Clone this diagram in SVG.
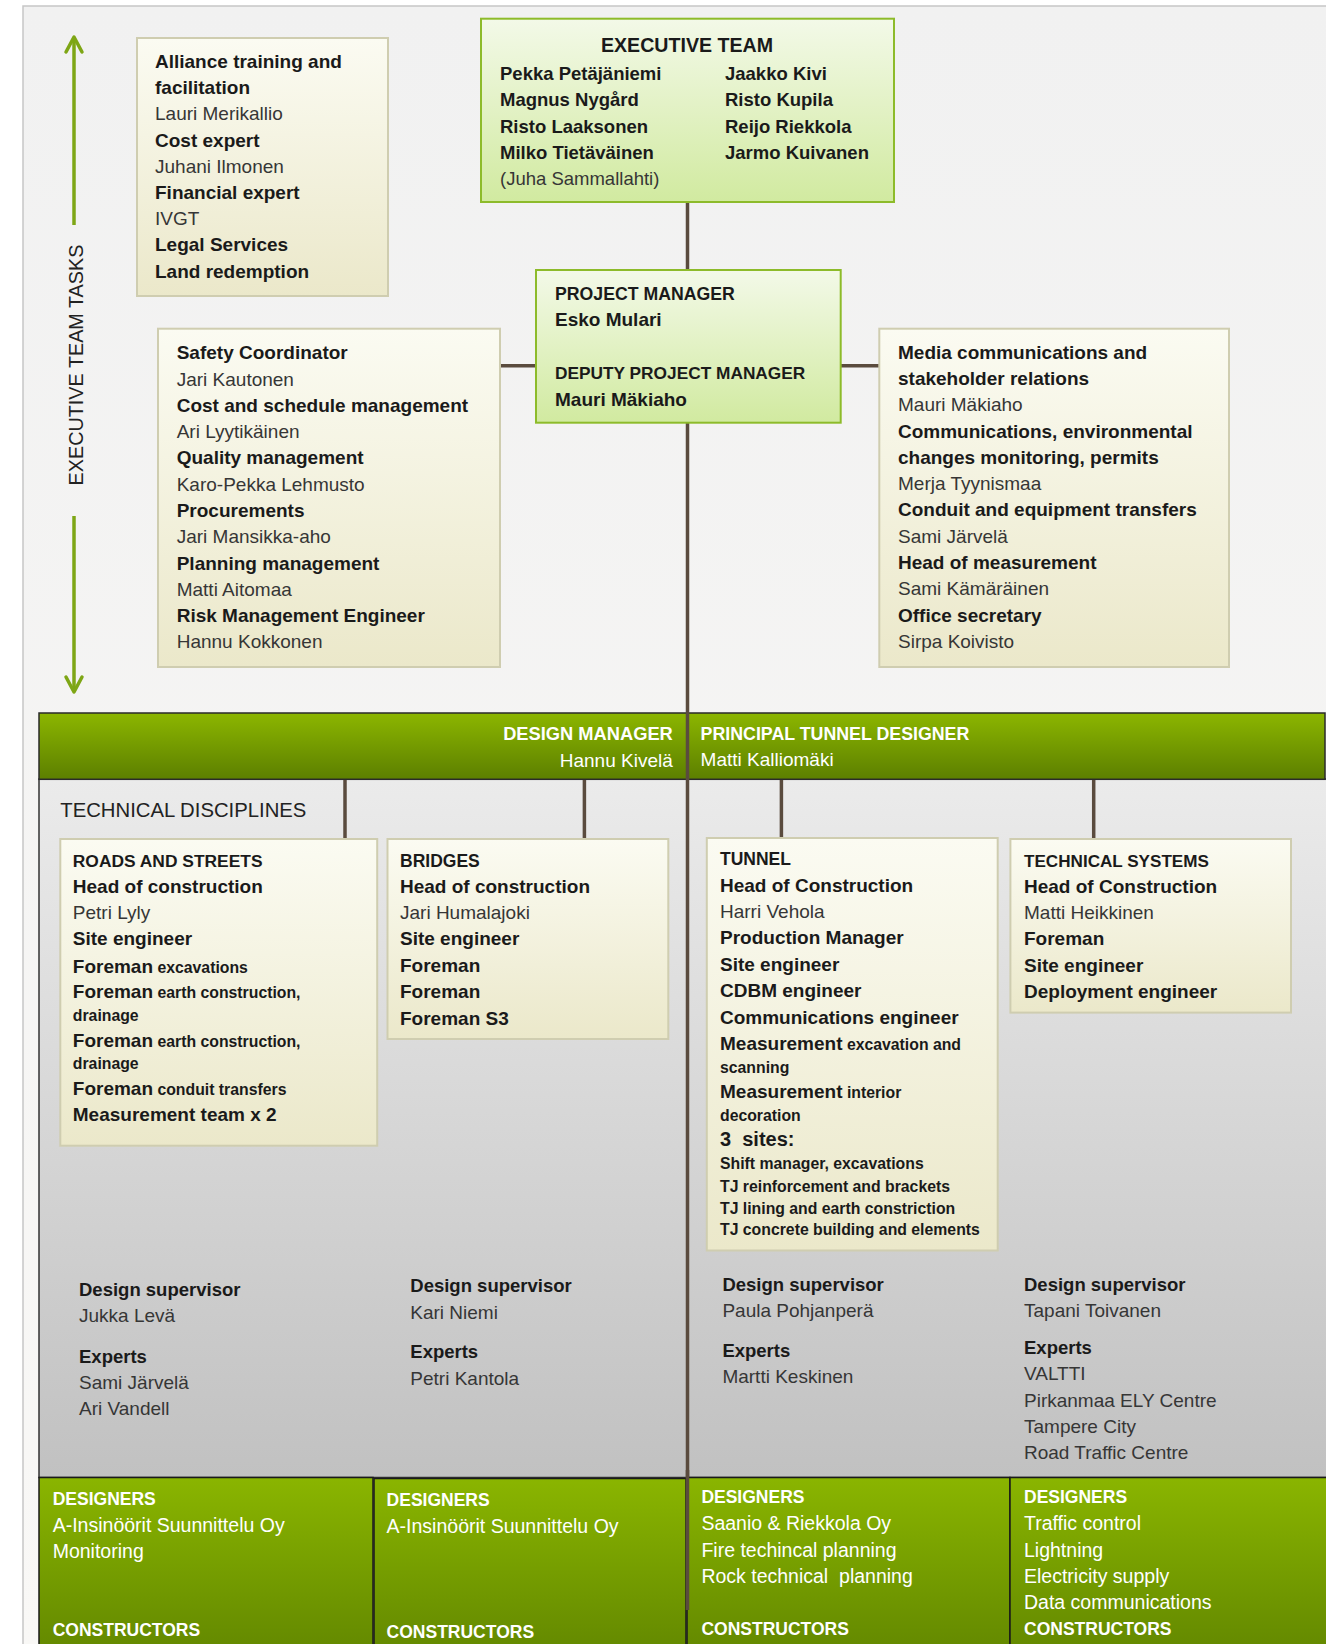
<svg xmlns="http://www.w3.org/2000/svg" width="1326" height="1644" viewBox="0 0 1326 1644">
<defs>
<linearGradient id="gBg" x1="0" y1="0" x2="0" y2="1"><stop offset="0" stop-color="#f1f1f1"/><stop offset="1" stop-color="#f9f8f6"/></linearGradient>
<linearGradient id="gCream" x1="0" y1="0" x2="0" y2="1"><stop offset="0" stop-color="#fbfbf2"/><stop offset="1" stop-color="#ebe8ca"/></linearGradient>
<linearGradient id="gLight" x1="0" y1="0" x2="0" y2="1"><stop offset="0" stop-color="#f3f9e8"/><stop offset="1" stop-color="#d1eaa0"/></linearGradient>
<linearGradient id="gBanner" x1="0" y1="0" x2="0" y2="1"><stop offset="0" stop-color="#8cb600"/><stop offset="1" stop-color="#5c7f00"/></linearGradient>
<linearGradient id="gGray" x1="0" y1="0" x2="0" y2="1"><stop offset="0" stop-color="#ebebeb"/><stop offset="1" stop-color="#c1c1c1"/></linearGradient>
<linearGradient id="gDes" x1="0" y1="0" x2="0" y2="1"><stop offset="0" stop-color="#8ab500"/><stop offset="1" stop-color="#628700"/></linearGradient>
<marker id="arr" viewBox="0 0 20 20" markerWidth="20" markerHeight="20" refX="17" refY="10" orient="auto" markerUnits="userSpaceOnUse" overflow="visible">
<path d="M2,2 L17,10 L2,18" fill="none" stroke="#7ea615" stroke-width="3.5" stroke-linecap="round" stroke-linejoin="round"/>
</marker>
<style>
text{font-family:"Liberation Sans",Arial,sans-serif;font-size:19px;fill:#363636}
.b{font-weight:bold;fill:#1a1a1a}
.cap{font-weight:bold;fill:#1a1a1a;font-size:17.5px}
.sm{font-weight:bold;fill:#1a1a1a;font-size:15.8px}
.ex{font-size:18.5px}
.w{fill:#ffffff}
.wb{fill:#ffffff;font-weight:bold;font-size:17.5px}
.cream{fill:url(#gCream);stroke:#cfcdb0;stroke-width:2}
.light{fill:url(#gLight);stroke:#8dbb2a;stroke-width:2}
.des{fill:url(#gDes);stroke:#1a1a1a;stroke-width:1.5}
.con{stroke:#5a4b3e;stroke-width:3.5;fill:none}
.arrow{stroke:#7ea615;stroke-width:3.5;fill:none}
</style>
</defs>
<rect x="0" y="0" width="1326" height="1644" fill="#ffffff"/>
<rect x="23" y="6" width="1320" height="1650" fill="url(#gBg)" stroke="#c6c6c6" stroke-width="1.5"/>

<g id="exec-tasks">
<line class="arrow" x1="74" y1="225" x2="74" y2="37" marker-end="url(#arr)"/>
<line class="arrow" x1="74" y1="516" x2="74" y2="692" marker-end="url(#arr)"/>
<text x="83" y="365" text-anchor="middle" transform="rotate(-90 83 365)" style="font-size:19.8px;fill:#222">EXECUTIVE TEAM TASKS</text>
</g>

<g id="gray-panel">
<rect x="39" y="779" width="1300" height="698.5" fill="url(#gGray)" stroke="#333" stroke-width="1.5"/>
<text x="60.3" y="816.7" style="font-size:20.3px;fill:#222">TECHNICAL DISCIPLINES</text>
</g>

<g id="banner">
<rect x="39" y="713" width="1286" height="66.3" fill="url(#gBanner)" stroke="#2a2a2a" stroke-width="1.5"/>
<text class="wb" x="672.8" y="740" text-anchor="end" style="font-size:18.3px">DESIGN MANAGER</text>
<text class="w" x="672.8" y="766.7" text-anchor="end">Hannu Kivelä</text>
<text class="wb" x="700.6" y="740" style="font-size:17.8px">PRINCIPAL TUNNEL DESIGNER</text>
<text class="w" x="700.6" y="765.8">Matti Kalliomäki</text>
</g>

<g id="connectors">
<line class="con" x1="687.5" y1="202" x2="687.5" y2="270"/>
<line class="con" x1="500" y1="365.7" x2="536" y2="365.7"/>
<line class="con" x1="840.7" y1="365.7" x2="879.3" y2="365.7"/>
<line class="con" x1="687.5" y1="423" x2="687.5" y2="1610"/>
<line class="con" x1="345" y1="780" x2="345" y2="839"/>
<line class="con" x1="584.4" y1="780" x2="584.4" y2="839"/>
<line class="con" x1="781.4" y1="780" x2="781.4" y2="838"/>
<line class="con" x1="1093.7" y1="780" x2="1093.7" y2="839"/>
</g>

<g id="alliance">
<rect class="cream" x="137" y="38" width="251" height="258"/>
<text class="b" x="155" y="68">Alliance training and</text>
<text class="b" x="155" y="94.2">facilitation</text>
<text x="155" y="120.4">Lauri Merikallio</text>
<text class="b" x="155" y="146.6">Cost expert</text>
<text x="155" y="172.8">Juhani Ilmonen</text>
<text class="b" x="155" y="199">Financial expert</text>
<text x="155" y="225.2">IVGT</text>
<text class="b" x="155" y="251.4">Legal Services</text>
<text class="b" x="155" y="277.6">Land redemption</text>
</g>

<g id="executive-team">
<rect class="light" x="481" y="18.7" width="413" height="183.3"/>
<text class="b" x="687" y="51.7" text-anchor="middle" style="font-size:19.6px">EXECUTIVE TEAM</text>
<text class="b ex" x="500" y="80">Pekka Petäjäniemi</text>
<text class="b ex" x="500" y="106.3">Magnus Nygård</text>
<text class="b ex" x="500" y="132.5">Risto Laaksonen</text>
<text class="b ex" x="500" y="158.8">Milko Tietäväinen</text>
<text class="ex" x="500" y="185">(Juha Sammallahti)</text>
<text class="b ex" x="725" y="80">Jaakko Kivi</text>
<text class="b ex" x="725" y="106.3">Risto Kupila</text>
<text class="b ex" x="725" y="132.5">Reijo Riekkola</text>
<text class="b ex" x="725" y="158.8">Jarmo Kuivanen</text>
</g>

<g id="project-manager">
<rect class="light" x="536" y="270" width="304.7" height="152.7"/>
<text class="cap" x="555" y="300" style="font-size:17.7px">PROJECT MANAGER</text>
<text class="b" x="555" y="326">Esko Mulari</text>
<text class="cap" x="555" y="379" style="font-size:17.3px">DEPUTY PROJECT MANAGER</text>
<text class="b" x="555" y="405.7">Mauri Mäkiaho</text>
</g>

<g id="safety">
<rect class="cream" x="158" y="328.7" width="342" height="338.3"/>
<text class="b" x="176.7" y="359.3">Safety Coordinator</text>
<text x="176.7" y="385.6">Jari Kautonen</text>
<text class="b" x="176.7" y="411.8">Cost and schedule management</text>
<text x="176.7" y="438.1">Ari Lyytikäinen</text>
<text class="b" x="176.7" y="464.4">Quality management</text>
<text x="176.7" y="490.6">Karo-Pekka Lehmusto</text>
<text class="b" x="176.7" y="516.9">Procurements</text>
<text x="176.7" y="543.2">Jari Mansikka-aho</text>
<text class="b" x="176.7" y="569.5">Planning management</text>
<text x="176.7" y="595.7">Matti Aitomaa</text>
<text class="b" x="176.7" y="622">Risk Management Engineer</text>
<text x="176.7" y="648.3">Hannu Kokkonen</text>
</g>

<g id="media">
<rect class="cream" x="879.3" y="328.7" width="349.7" height="338.3"/>
<text class="b" x="898" y="358.8">Media communications and</text>
<text class="b" x="898" y="385.1">stakeholder relations</text>
<text x="898" y="411.3">Mauri Mäkiaho</text>
<text class="b" x="898" y="437.6">Communications, environmental</text>
<text class="b" x="898" y="463.9">changes monitoring, permits</text>
<text x="898" y="490.1">Merja Tyynismaa</text>
<text class="b" x="898" y="516.4">Conduit and equipment transfers</text>
<text x="898" y="542.7">Sami Järvelä</text>
<text class="b" x="898" y="569">Head of measurement</text>
<text x="898" y="595.2">Sami Kämäräinen</text>
<text class="b" x="898" y="621.5">Office secretary</text>
<text x="898" y="647.8">Sirpa Koivisto</text>
</g>

<g id="roads">
<rect class="cream" x="60.3" y="839" width="316.9" height="306.7"/>
<text class="cap" x="72.8" y="866.7" style="font-size:17.4px">ROADS AND STREETS</text>
<text class="b" x="72.8" y="892.7">Head of construction</text>
<text x="72.8" y="919.3">Petri Lyly</text>
<text class="b" x="72.8" y="945.3">Site engineer</text>
<text x="72.8" y="972.7"><tspan class="b">Foreman</tspan><tspan class="sm"> excavations</tspan></text>
<text x="72.8" y="998.3"><tspan class="b">Foreman</tspan><tspan class="sm"> earth construction,</tspan></text>
<text class="sm" x="72.8" y="1021">drainage</text>
<text x="72.8" y="1046.7"><tspan class="b">Foreman</tspan><tspan class="sm"> earth construction,</tspan></text>
<text class="sm" x="72.8" y="1069.3">drainage</text>
<text x="72.8" y="1095"><tspan class="b">Foreman</tspan><tspan class="sm"> conduit transfers</tspan></text>
<text class="b" x="72.8" y="1121">Measurement team x 2</text>
</g>

<g id="bridges">
<rect class="cream" x="387.5" y="839" width="280.8" height="200"/>
<text class="cap" x="400" y="866.7">BRIDGES</text>
<text class="b" x="400" y="892.7">Head of construction</text>
<text x="400" y="919.3">Jari Humalajoki</text>
<text class="b" x="400" y="945.3">Site engineer</text>
<text class="b" x="400" y="972">Foreman</text>
<text class="b" x="400" y="998">Foreman</text>
<text class="b" x="400" y="1024.7">Foreman S3</text>
</g>

<g id="tunnel">
<rect class="cream" x="706.8" y="838" width="290.9" height="412.5"/>
<text class="cap" x="720" y="864.6">TUNNEL</text>
<text class="b" x="720" y="891.6">Head of Construction</text>
<text x="720" y="917.5">Harri Vehola</text>
<text class="b" x="720" y="943.8">Production Manager</text>
<text class="b" x="720" y="971.2">Site engineer</text>
<text class="b" x="720" y="997">CDBM engineer</text>
<text class="b" x="720" y="1024">Communications engineer</text>
<text x="720" y="1050"><tspan class="b">Measurement</tspan><tspan class="sm"> excavation and</tspan></text>
<text class="sm" x="720" y="1073">scanning</text>
<text x="720" y="1097.7"><tspan class="b">Measurement</tspan><tspan class="sm"> interior</tspan></text>
<text class="sm" x="720" y="1121">decoration</text>
<text class="b" x="720" y="1145.8" style="font-size:20px">3&#160; sites:</text>
<text class="sm" x="720" y="1169">Shift manager, excavations</text>
<text class="sm" x="720" y="1192">TJ reinforcement and brackets</text>
<text class="sm" x="720" y="1213.5">TJ lining and earth constriction</text>
<text class="sm" x="720" y="1235">TJ concrete building and elements</text>
</g>

<g id="technical-systems">
<rect class="cream" x="1010.4" y="839" width="280.6" height="173.6"/>
<text class="cap" x="1024" y="866.8" style="font-size:17.1px">TECHNICAL SYSTEMS</text>
<text class="b" x="1024" y="892.7">Head of Construction</text>
<text x="1024" y="918.6">Matti Heikkinen</text>
<text class="b" x="1024" y="945.3">Foreman</text>
<text class="b" x="1024" y="972.3">Site engineer</text>
<text class="b" x="1024" y="998.2">Deployment engineer</text>
</g>

<g id="roads-supervision">
<text class="b ex" x="79" y="1296">Design supervisor</text>
<text x="79" y="1321.7">Jukka Levä</text>
<text class="b ex" x="79" y="1363.3">Experts</text>
<text x="79" y="1389">Sami Järvelä</text>
<text x="79" y="1415">Ari Vandell</text>
</g>
<g id="bridges-supervision">
<text class="b ex" x="410.3" y="1291.7">Design supervisor</text>
<text x="410.3" y="1319">Kari Niemi</text>
<text class="b ex" x="410.3" y="1358.3">Experts</text>
<text x="410.3" y="1385">Petri Kantola</text>
</g>
<g id="tunnel-supervision">
<text class="b ex" x="722.4" y="1290.7">Design supervisor</text>
<text x="722.4" y="1316.7">Paula Pohjanperä</text>
<text class="b ex" x="722.4" y="1356.7">Experts</text>
<text x="722.4" y="1382.7">Martti Keskinen</text>
</g>
<g id="systems-supervision">
<text class="b ex" x="1024" y="1290.7">Design supervisor</text>
<text x="1024" y="1316.7">Tapani Toivanen</text>
<text class="b ex" x="1024" y="1354">Experts</text>
<text x="1024" y="1380">VALTTI</text>
<text x="1024" y="1406.7">Pirkanmaa ELY Centre</text>
<text x="1024" y="1432.7">Tampere City</text>
<text x="1024" y="1459.3">Road Traffic Centre</text>
</g>

<g id="designers-roads">
<rect class="des" x="39" y="1477.5" width="334" height="180"/>
<text class="wb" x="52.7" y="1505">DESIGNERS</text>
<text class="w" x="52.7" y="1531.7" style="font-size:19.5px">A-Insinöörit Suunnittelu Oy</text>
<text class="w" x="52.7" y="1558.3" style="font-size:19.5px">Monitoring</text>
<text class="wb" x="52.7" y="1636">CONSTRUCTORS</text>
</g>
<g id="designers-bridges">
<rect class="des" x="374" y="1478.5" width="312" height="180"/>
<text class="wb" x="386.6" y="1506">DESIGNERS</text>
<text class="w" x="386.6" y="1532.7" style="font-size:19.5px">A-Insinöörit Suunnittelu Oy</text>
<text class="wb" x="386.6" y="1637.7">CONSTRUCTORS</text>
</g>
<g id="designers-tunnel">
<rect class="des" x="687" y="1477.5" width="323" height="180"/>
<text class="wb" x="701.4" y="1503.3">DESIGNERS</text>
<text class="w" x="701.4" y="1530" style="font-size:19.5px">Saanio &amp; Riekkola Oy</text>
<text class="w" x="701.4" y="1556.7" style="font-size:19.5px">Fire techincal planning</text>
<text class="w" x="701.4" y="1583.3" style="font-size:19.5px">Rock technical&#160; planning</text>
<text class="wb" x="701.4" y="1635">CONSTRUCTORS</text>
</g>
<g id="designers-systems">
<rect class="des" x="1010" y="1477.5" width="330" height="180"/>
<text class="wb" x="1024" y="1503.3">DESIGNERS</text>
<text class="w" x="1024" y="1530" style="font-size:19.5px">Traffic control</text>
<text class="w" x="1024" y="1556.7" style="font-size:19.5px">Lightning</text>
<text class="w" x="1024" y="1583.3" style="font-size:19.5px">Electricity supply</text>
<text class="w" x="1024" y="1609.3" style="font-size:19.5px">Data communications</text>
<text class="wb" x="1024" y="1635">CONSTRUCTORS</text>
</g>

<line class="con" x1="687.5" y1="1470" x2="687.5" y2="1610"/>
</svg>
